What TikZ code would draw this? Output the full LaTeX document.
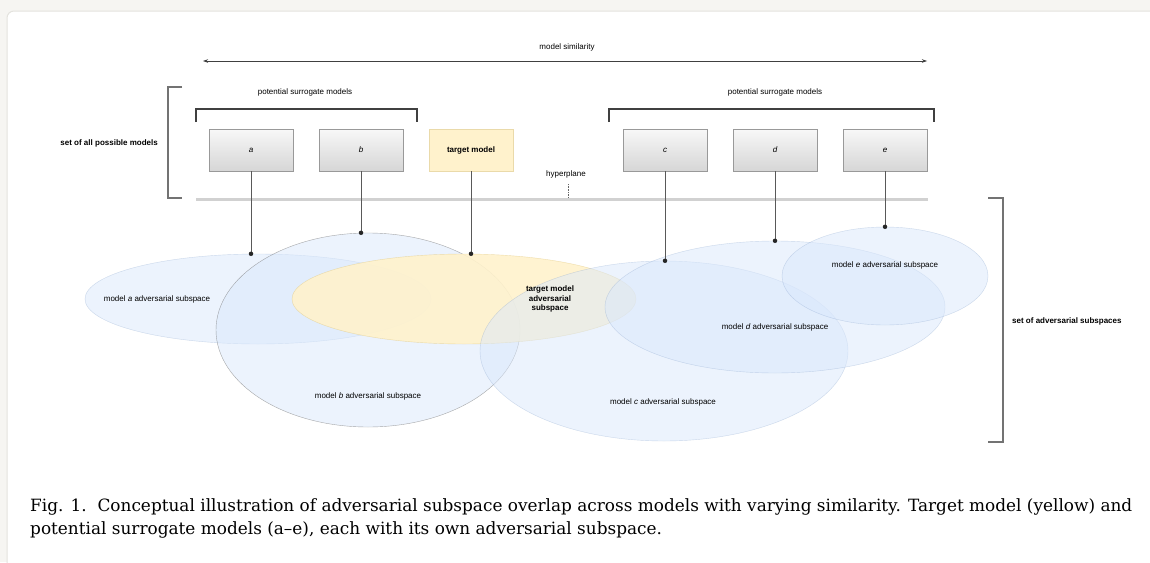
\documentclass[tikz,border=0pt]{standalone}
\usepackage{fontspec}
\setmainfont{Liberation Sans}
\newfontfamily\capfont{DejaVu Serif}
\usepackage{xcolor}
\usetikzlibrary{arrows.meta,positioning,shapes.geometric,calc}

\definecolor{pagebg}{HTML}{F6F5F2}
\definecolor{cardline}{HTML}{E4E3DE}
\definecolor{subblue}{HTML}{DAE8FC}
\definecolor{subline}{HTML}{6C8EBF}
\definecolor{tgtfill}{HTML}{FFF2CC}
\definecolor{tgtline}{HTML}{D6B656}

\begin{document}
\begin{tikzpicture}[
    x=1pt, y=-1pt,
    >={Stealth[length=5pt, width=3.5pt]},
    lbl/.style={font=\fontsize{8}{9.5}\selectfont, inner sep=0pt},
    lblbold/.style={font=\fontsize{8}{9.5}\selectfont\bfseries, inner sep=0pt},
    modelbox/.style={draw=black!40, top color=black!3, bottom color=black!16, minimum width=84pt, minimum height=42pt, inner sep=0pt, font=\fontsize{8}{9.5}\selectfont\itshape},
    targetbox/.style={draw=tgtline!50, fill=tgtfill, minimum width=84pt, minimum height=42pt, inner sep=0pt, font=\fontsize{8}{9.5}\selectfont\bfseries},
    subsp/.style={ellipse, draw=subline, draw opacity=0.3, fill=subblue, fill opacity=0.5, inner sep=0pt},
    subtgt/.style={ellipse, draw=tgtline, draw opacity=0.4, fill=tgtfill, fill opacity=0.9, inner sep=0pt},
    bracket/.style={draw=black!75, line width=1.2pt},
    bigbracket/.style={draw=black!55, line width=1.6pt},
    conn/.style={draw=black!65, line width=0.9pt},
    dot/.style={circle, fill=black!85, inner sep=0pt, minimum size=4.5pt},
]
\useasboundingbox (0,0) rectangle (1150,562);

% ========== Page and card ==========
\fill[pagebg] (0,0) rectangle (1150,562);
\filldraw[fill=white, draw=cardline, line width=1pt, rounded corners=7pt] (7,11) rectangle (1175,585);

% ========== Model similarity axis ==========
\coordinate (simL) at (203,61);
\coordinate (simR) at (927,61);
\draw[<->, black!75, line width=0.7pt] (simL) -- (simR);
\node[lbl] (simlbl) at (567,47) {model similarity};

% ========== Set of all possible models ==========
\draw[bigbracket] (182,87) -- (168,87) -- (168,198) -- (182,198);
\node[lblbold, anchor=east] (alllbl) at (158,143) {set of all possible models};

% potential surrogate brackets
\draw[bracket] (196,122) -- (196,109) -- (417,109) -- (417,122);
\node[lbl] (surlblL) at (305,92) {potential surrogate models};
\draw[bracket] (609,122) -- (609,109) -- (934,109) -- (934,122);
\node[lbl] (surlblR) at (775,92) {potential surrogate models};

% hyperplane
\draw[line width=3pt, black!18] (196,199) -- (928,199);
\draw[densely dotted, black!60, line width=0.6pt] (568,184) -- (568,198);
\node[lbl] (hyplbl) at (566,174) {hyperplane};

% ========== Adversarial subspaces ==========
\node[subsp, minimum width=346pt, minimum height=90pt] (suba) at (258,299) {};
\node[subsp, draw=black!55, draw opacity=0.6, minimum width=304pt, minimum height=194pt] (subb) at (368,330) {};
\node[subtgt, minimum width=344pt, minimum height=90pt] (subtarget) at (464,299) {};
\node[subsp, minimum width=368pt, minimum height=180pt] (subc) at (664,351) {};
\node[subsp, minimum width=340pt, minimum height=132pt] (subd) at (775,307) {};
\node[subsp, minimum width=206pt, minimum height=98pt] (sube) at (885,276) {};

\node[lbl] (lbla) at (157,299) {model \textit{a} adversarial subspace};
\node[lbl] (lblb) at (368,396) {model \textit{b} adversarial subspace};
\node[lblbold, align=center] (lbltarget) at (550,299) {target model\\adversarial\\subspace};
\node[lbl] (lblc) at (663,402) {model \textit{c} adversarial subspace};
\node[lbl] (lbld) at (775,327) {model \textit{d} adversarial subspace};
\node[lbl] (lble) at (885,265) {model \textit{e} adversarial subspace};

% set of adversarial subspaces
\draw[bigbracket] (988,198) -- (1003,198) -- (1003,442) -- (988,442);
\node[lblbold, anchor=west] (advlbl) at (1012,321) {set of adversarial subspaces};

% ========== Models ==========
\foreach \n/\x in {a/251, b/361, c/665, d/775, e/885} {
    \node[modelbox] (box\n) at (\x,150) {\n};
}
\node[targetbox] (boxtarget) at (471,150) {target model};

% connectors from models to their subspaces
\foreach \n in {a, b, target, c, d, e} {
    \draw[conn] (box\n.south) -- (box\n.south |- sub\n.north) node[dot] (dot\n) {};
}

% ========== Caption ==========
\node[anchor=base west, align=left, inner sep=0pt, font=\capfont\fontsize{16.9}{22.5}\selectfont] (caption) at (30,534)
    {Fig. 1.\ \ Conceptual illustration of adversarial subspace overlap across models with varying similarity. Target model (yellow) and\\
     potential surrogate models (a–e), each with its own adversarial subspace.};

\end{tikzpicture}
\end{document}
